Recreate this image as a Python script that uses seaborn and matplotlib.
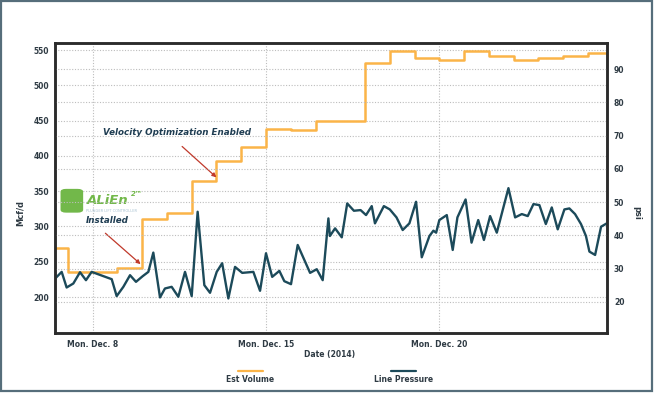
import numpy as np
import pandas as pd
import seaborn as sns
import matplotlib.pyplot as plt
from matplotlib.lines import Line2D
from matplotlib.patches import Rectangle, FancyBboxPatch

# Est Volume (Mcf/d), daily steps, x = day of December 2014
vol_days = [6, 7, 8, 9, 10, 11, 12, 13, 14, 15, 16, 17, 18, 19, 20, 21, 22, 23, 24, 25, 26, 27, 28, 29]
est_volume = [270, 235, 235, 241, 311, 319, 365, 393, 412, 438, 436, 450, 450, 531, 548,
              539, 536, 548, 541, 536, 539, 542, 546, 546]

# Line Pressure (psi)
psi_days = [6.46, 6.75, 6.95, 7.22, 7.49, 7.73, 7.96, 8.77, 8.97, 9.24, 9.51, 9.75, 10.02, 10.25,
            10.45, 10.72, 10.92, 11.19, 11.46, 11.73, 12.00, 12.24, 12.51, 12.74, 13.01, 13.23,
            13.48, 13.75, 14.04, 14.49, 14.76, 15.00, 15.25, 15.54, 15.74, 16.01, 16.28, 16.78,
            17.05, 17.29, 17.52, 17.58, 17.79, 18.06, 18.28, 18.55, 18.82, 19.04, 19.27, 19.40,
            19.76, 20.00, 20.27, 20.52, 20.79, 21.06, 21.29, 21.60, 21.76, 21.87, 22.00, 22.30,
            22.54, 22.73, 23.06, 23.30, 23.57, 23.80, 24.05, 24.32, 24.79, 25.06, 25.33, 25.57,
            25.80, 26.04, 26.30, 26.54, 26.78, 27.05, 27.25, 27.48, 27.72, 27.92, 28.06, 28.29,
            28.53, 28.76]
line_pressure = [26.8, 29.0, 24.3, 25.5, 28.9, 26.5, 29.0, 26.8, 21.7, 24.5, 28.0, 26.0, 27.7, 29.0,
                 34.8, 21.3, 24.0, 24.5, 21.5, 29.0, 21.7, 47.1, 25.0, 22.7, 29.0, 31.6,
                 21.0, 30.5, 28.7, 29.0, 23.3, 34.6, 27.5, 29.3, 26.2, 25.3, 37.1, 28.7,
                 29.8, 26.5, 45.1, 39.8, 42.1, 39.4, 49.6, 47.4, 47.6, 46.1, 48.8, 43.6,
                 48.8, 47.8, 45.4, 41.6, 43.6, 50.1, 33.4, 39.8, 41.4, 40.8, 44.6, 46.1,
                 35.6, 45.4, 50.8, 37.8, 44.6, 38.6, 45.8, 40.8, 54.2, 45.4, 46.4, 45.8,
                 49.4, 49.1, 43.4, 48.4, 41.8, 47.8, 48.1, 46.4, 43.4, 39.8, 35.1, 34.1,
                 42.6, 43.6]

tick_days = [8, 15, 22]
tick_labels = ['Mon. Dec. 8', 'Mon. Dec. 15', 'Mon. Dec. 20']

vol_df = pd.DataFrame({'day': vol_days, 'volume': est_volume})
psi_df = pd.DataFrame({'day': psi_days, 'psi': line_pressure})

sns.set_theme(style='white')
plt.rcParams['font.family'] = ['DejaVu Sans']

orange = '#fbb448'
teal = '#1c4a5a'
txt = '#2f3b44'
grid_kw = dict(color='#bdbdbd', linestyle=(0, (1, 1.5)), linewidth=0.8)

fig = plt.figure(figsize=(6.58, 3.94), dpi=100)
fig.patch.set_facecolor('white')
ax = fig.add_axes([55 / 658, 61 / 394, 552 / 658, 290 / 394])
ax2 = ax.twinx()

sns.lineplot(data=vol_df, x='day', y='volume', ax=ax, color=orange, linewidth=1.8,
             drawstyle='steps-post', estimator=None, sort=False)
sns.lineplot(data=psi_df, x='day', y='psi', ax=ax2, color=teal, linewidth=1.7,
             estimator=None, sort=False)

ax.set_xlim(6.48, 28.77)
ax.set_ylim(149, 560)
ax2.set_ylim(10.6, 97.9)
ax.set_yticks([200, 250, 300, 350, 400, 450, 500, 550])
ax2.set_yticks([20, 30, 40, 50, 60, 70, 80, 90])
ax.set_xticks(tick_days)
ax.set_xticklabels(tick_labels)

ax.grid(True, which='major', axis='both', **grid_kw)
ax2.grid(True, which='major', axis='y', **grid_kw)
ax2.grid(False, axis='x')
ax.set_axisbelow(True)

for a in (ax, ax2):
    a.set_xlabel('')
    a.set_ylabel('')
    a.tick_params(length=0, labelsize=5.5, labelcolor=txt)
    for lbl in a.get_xticklabels() + a.get_yticklabels():
        lbl.set_fontweight('bold')
    for s in a.spines.values():
        s.set_color('#2b2b2b')
        s.set_linewidth(1.8)
ax.tick_params(axis='y', pad=4)
ax.tick_params(axis='x', pad=5)
ax2.tick_params(axis='y', pad=5)

fig.text(20.5 / 658, 1 - 213 / 394, 'Mcf/d', rotation=90, ha='center', va='center',
         fontsize=6, fontweight='bold', color=txt)
fig.text(636.5 / 658, 1 - 213 / 394, 'psi', rotation=270, ha='center', va='center',
         fontsize=6, fontweight='bold', color=txt)
fig.text(330 / 658, 1 - 354.5 / 394, 'Date (2014)', ha='center', va='center',
         fontsize=5.5, fontweight='bold', color=txt)

# legend: line above label
for cx, col, name in [(250.5, orange, 'Est Volume'), (403.5, teal, 'Line Pressure')]:
    fig.add_artist(Line2D([(cx - 12.5) / 658, (cx + 12.5) / 658], [1 - 371 / 394] * 2,
                          color=col, linewidth=1.6, transform=fig.transFigure))
    fig.text(cx / 658, 1 - 380 / 394, name, ha='center', va='center',
             fontsize=5.5, fontweight='bold', color=txt)

# annotations
red = '#c0392b'
ax.text(11.42, 433, 'Velocity Optimization Enabled', ha='center', va='center',
        fontsize=6.3, fontweight='bold', style='italic', color='#1f3d52')
ax.annotate('', xy=(13.08, 367), xytext=(11.53, 416),
            arrowprops=dict(arrowstyle='-|>', color=red, lw=0.9, mutation_scale=6))
ax.text(8.58, 308, 'Installed', ha='center', va='center',
        fontsize=6.3, fontweight='bold', style='italic', color='#1f3d52')
ax.annotate('', xy=(10.02, 244), xytext=(8.43, 293),
            arrowprops=dict(arrowstyle='-|>', color=red, lw=0.9, mutation_scale=6))

# ALiEn logo
green = '#72b84a'
ax.add_patch(FancyBboxPatch((0.010, 0.415), 0.041, 0.082, boxstyle='round,pad=0,rounding_size=0.01',
                            transform=ax.transAxes, facecolor=green, edgecolor='none', zorder=5))
ax.text(0.057, 0.458, 'ALiEn', transform=ax.transAxes, ha='left', va='center',
        fontsize=9.5, fontweight='bold', style='italic', color=green, zorder=5)
ax.text(0.138, 0.478, '2™', transform=ax.transAxes, ha='left', va='center',
        fontsize=5, fontweight='bold', style='italic', color=green, zorder=5)
ax.text(0.057, 0.421, 'PLUNGER LIFT CONTROLLER', transform=ax.transAxes, ha='left', va='center',
        fontsize=2.6, color='#a9c3d3', zorder=5)

# outer frame
fig.add_artist(Rectangle((0.002, 3 / 394), 651 / 658, 1 - 4 / 394, transform=fig.transFigure,
                         fill=False, edgecolor='#566e7b', linewidth=1.6))

fig.savefig('out.png', dpi=100)
